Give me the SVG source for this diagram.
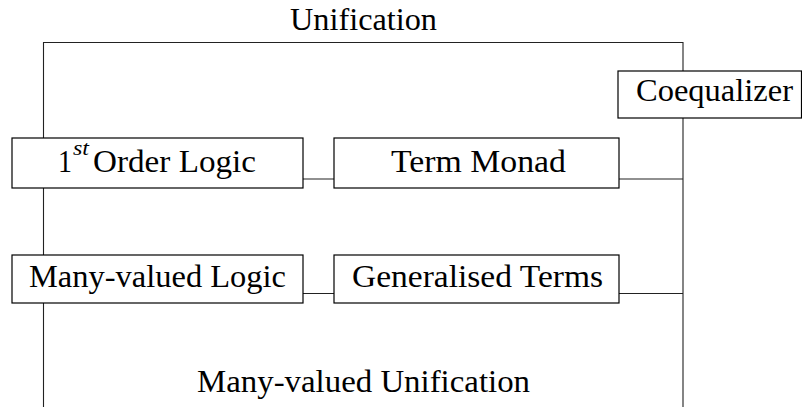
<svg xmlns="http://www.w3.org/2000/svg" width="802" height="407" viewBox="0 0 802 407">
<style>
.box{fill:#fff;stroke:#000;stroke-width:1.2}
.ln{fill:none;stroke:#222;stroke-width:1.1}
text{font-family:"Liberation Serif","Times New Roman",serif;font-size:32px;fill:#000}
.sup{font-size:22px;font-style:italic}
</style>
<rect width="802" height="407" fill="#fff"/>
<g id="connectors">
<path class="ln" d="M43.5,407 V303 M43.5,256 V188 M43.5,138 V42.5 H683 V71 M683,118 V407"/>
<path class="ln" d="M303,179 H334 M619,179 H683"/>
<path class="ln" d="M303,293.5 H334 M619,293.5 H683"/>
</g>
<g id="label-unification"><text x="290" y="29.5" textLength="147" lengthAdjust="spacingAndGlyphs">Unification</text></g>
<g id="label-many-valued-unification"><text x="197" y="391.5" textLength="333" lengthAdjust="spacingAndGlyphs">Many-valued Unification</text></g>
<g id="coequalizer">
<rect class="box" x="618" y="71" width="183.5" height="47"/>
<text x="636" y="101" textLength="157" lengthAdjust="spacingAndGlyphs">Coequalizer</text>
</g>
<g id="first-order-logic">
<rect class="box" x="12" y="138" width="291" height="50"/>
<text x="58" y="172" textLength="14" lengthAdjust="spacingAndGlyphs">1</text>
<text class="sup" x="73" y="155" textLength="16" lengthAdjust="spacingAndGlyphs">st</text>
<text x="93" y="172" textLength="163" lengthAdjust="spacingAndGlyphs">Order Logic</text>
</g>
<g id="term-monad">
<rect class="box" x="334" y="138" width="285" height="50"/>
<text x="391" y="172" textLength="175" lengthAdjust="spacingAndGlyphs">Term Monad</text>
</g>
<g id="many-valued-logic">
<rect class="box" x="12" y="255" width="291" height="48"/>
<text x="29" y="287" textLength="257" lengthAdjust="spacingAndGlyphs">Many-valued Logic</text>
</g>
<g id="generalised-terms">
<rect class="box" x="334" y="255" width="285" height="48"/>
<text x="352" y="287" textLength="251" lengthAdjust="spacingAndGlyphs">Generalised Terms</text>
</g>
</svg>
